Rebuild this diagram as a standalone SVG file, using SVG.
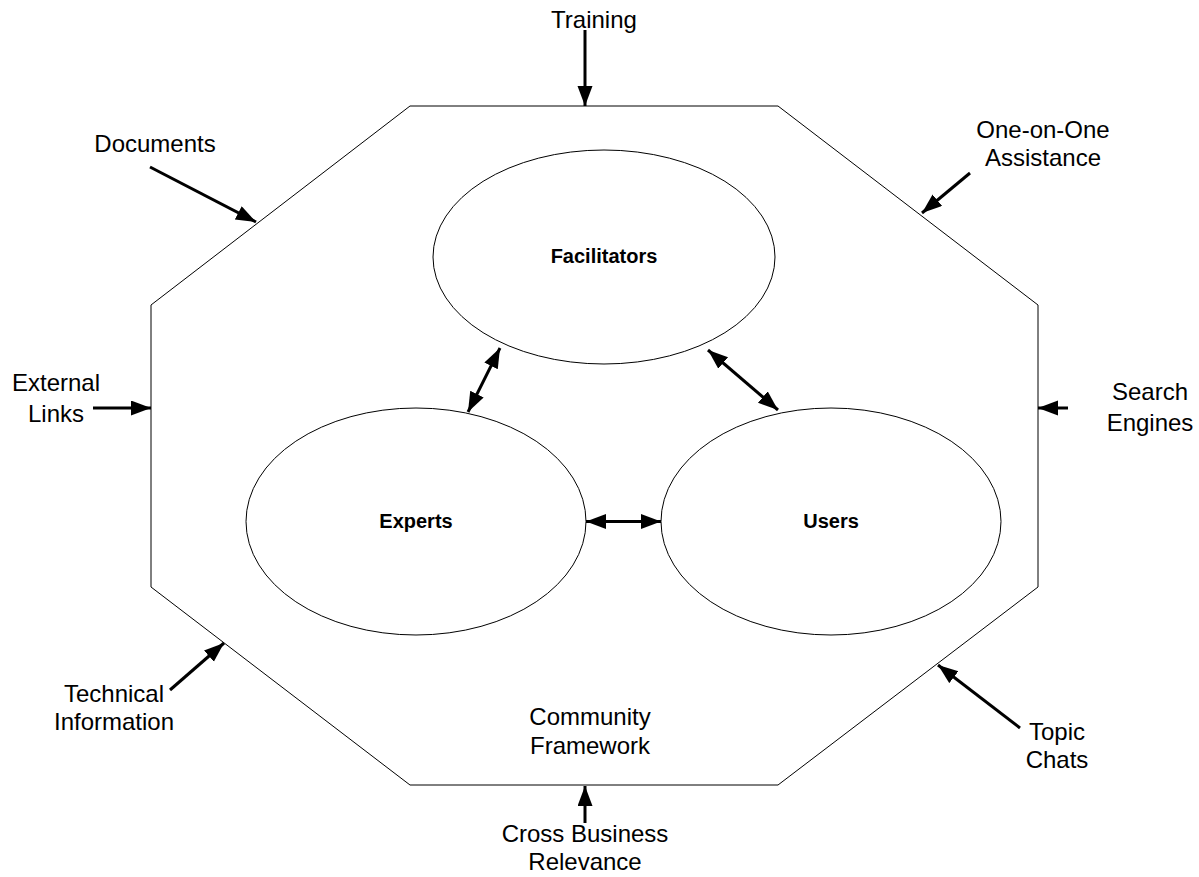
<svg xmlns="http://www.w3.org/2000/svg" width="1199" height="877" viewBox="0 0 1199 877">
<style>
.lbl{font-family:"Liberation Sans",Arial,sans-serif;font-size:24px;fill:#000;text-anchor:middle}
.node{font-family:"Liberation Sans",Arial,sans-serif;font-size:20px;font-weight:bold;fill:#000;text-anchor:middle}
.shape{fill:#fff;stroke:#000;stroke-width:1}
.arr{stroke:#000;stroke-width:3;fill:none;marker-end:url(#ah)}
.dbl{stroke:#000;stroke-width:3;fill:none;marker-start:url(#ah);marker-end:url(#ah)}
</style>
<defs>
<marker id="ah" markerUnits="userSpaceOnUse" markerWidth="22" markerHeight="17" refX="20" refY="7.5" orient="auto-start-reverse" viewBox="0 0 22 17">
<path d="M0,0 L20,7.5 L0,15 z" fill="#000"/>
</marker>
</defs>
<rect width="1199" height="877" fill="#fff"/>
<g id="framework">
<polygon class="shape" points="410,106 778,106 1038,305 1038,587 778,785 410,785 151,587 151,305"/>
<text class="lbl" x="590" y="725">Community</text>
<text class="lbl" x="590" y="754">Framework</text>
</g>
<g id="facilitators">
<ellipse class="shape" cx="604" cy="257" rx="171" ry="107"/>
<text class="node" x="604" y="263">Facilitators</text>
</g>
<g id="experts">
<ellipse class="shape" cx="416" cy="521.5" rx="170" ry="113.5"/>
<text class="node" x="416" y="528">Experts</text>
</g>
<g id="users">
<ellipse class="shape" cx="831" cy="521.5" rx="170" ry="113.5"/>
<text class="node" x="831" y="528">Users</text>
</g>
<g id="labels">
<text class="lbl" x="594" y="28">Training</text>
<text class="lbl" x="155" y="152">Documents</text>
<text class="lbl" x="1043" y="138">One-on-One</text>
<text class="lbl" x="1043" y="166">Assistance</text>
<text class="lbl" x="56" y="391">External</text>
<text class="lbl" x="56" y="422">Links</text>
<text class="lbl" x="1150" y="400">Search</text>
<text class="lbl" x="1150" y="431">Engines</text>
<text class="lbl" x="114" y="702">Technical</text>
<text class="lbl" x="114" y="730">Information</text>
<text class="lbl" x="1057" y="740">Topic</text>
<text class="lbl" x="1057" y="768">Chats</text>
<text class="lbl" x="585" y="842">Cross Business</text>
<text class="lbl" x="585" y="870">Relevance</text>
</g>
<g id="connectors">
<line class="arr" x1="585" y1="30" x2="585" y2="106"/>
<line class="arr" x1="150" y1="167" x2="256" y2="222"/>
<line class="arr" x1="970" y1="173" x2="922" y2="213"/>
<line class="arr" x1="93" y1="408" x2="151" y2="408"/>
<line class="arr" x1="1068" y1="408" x2="1038" y2="408"/>
<line class="arr" x1="170" y1="690" x2="224" y2="643"/>
<line class="arr" x1="1020" y1="728" x2="938" y2="665"/>
<line class="arr" x1="585" y1="823" x2="585" y2="786"/>
<line class="dbl" x1="500" y1="348" x2="468" y2="412"/>
<line class="dbl" x1="708" y1="350" x2="778" y2="410"/>
<line class="dbl" x1="586" y1="521.5" x2="661" y2="521.5"/>
</g>
</svg>
